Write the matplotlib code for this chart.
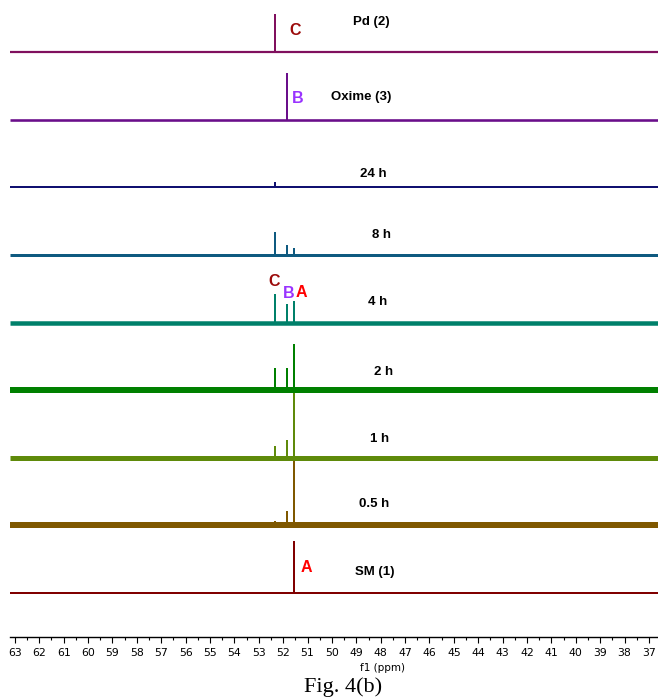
import matplotlib
matplotlib.use('Agg')
import matplotlib.pyplot as plt

# stacked spectra, bottom trace first
traces = ['SM (1)', '0.5 h', '1 h', '2 h', '4 h', '8 h', '24 h', 'Oxime (3)', 'Pd (2)']
colors = ['#800000', '#7f5800', '#5f8a0a', '#008000', '#00806a',
          '#0f5a80', '#101070', '#6a0e8a', '#80105e']

# peak positions (ppm) for species C, B, A
peak_ppm = [52.34, 51.86, 51.55]
# peak heights per trace (C, B, A), px-like units
peak_c = [0, 4, 12, 22, 29, 23, 5, 0, 38]
peak_b = [0, 14, 18, 22, 19, 10, 0, 47, 0]
peak_a = [52, 70, 67, 46, 22, 7, 0, 0, 0]
# baseline noise band thickness (px)
noise = [2.0, 6.0, 5.0, 6.0, 4.5, 3.0, 2.0, 2.6, 2.2]

label_ppm = [48.24, 48.28, 48.03, 47.87, 48.11, 47.95, 48.32, 48.81, 48.40]
label_dy = [21, 21, 19, 18, 21, 20, 13, 23, 30]

letter_text = ['A', 'C', 'B', 'A', 'B', 'C']
letter_trace = [0, 4, 4, 4, 7, 8]
letter_ppm = [51.03, 52.38, 51.76, 51.27, 51.39, 51.52]
letter_dy = [25, 41, 29, 30, 21, 22]
letter_col = {'A': '#ff0000', 'B': '#9933ff', 'C': '#9b0a0a'}

PX = 0.72  # points per pixel at dpi 100

fig = plt.figure(figsize=(6.58, 6.98), dpi=100)
ax = fig.add_axes([10 / 658, 1 - 636.7 / 698, 1 - 10 / 658, 636.7 / 698])

xl, xr = 63.2, 36.63
base0, step = 43.7, 67.6

for i, name in enumerate(traces):
    y0 = base0 + i * step
    ax.hlines(y0, xr, xl, color=colors[i], lw=noise[i] * PX, zorder=2 + i * 0.01)
    for ppm, h in zip(peak_ppm, [peak_c[i], peak_b[i], peak_a[i]]):
        if h > 0:
            ax.vlines(ppm, y0, y0 + h, color=colors[i], lw=2.0 * PX, zorder=2 + i * 0.01)
    ax.text(label_ppm[i], y0 + label_dy[i], name, ha='center', va='center',
            fontsize=9.5, fontweight='bold', family='Liberation Sans')

for t, ti, p, dy in zip(letter_text, letter_trace, letter_ppm, letter_dy):
    ax.text(p, base0 + ti * step + dy, t, ha='center', va='center',
            fontsize=11.5, fontweight='bold', color=letter_col[t],
            family='Liberation Sans')

ax.set_xlim(xl, xr)
ax.set_ylim(0, 636.7)
for s in ['top', 'left', 'right']:
    ax.spines[s].set_visible(False)
ax.spines['bottom'].set_linewidth(1.4 * PX)
ax.set_yticks([])
ax.set_xticks(range(63, 36, -1))
ax.set_xticks([x + 0.5 for x in range(37, 63)], minor=True)
ax.tick_params(axis='x', which='major', length=4, width=0.8, pad=4, labelsize=7.8)
ax.tick_params(axis='x', which='minor', length=2, width=0.8)

fig.text(382 / 658, 1 - 668 / 698, 'f1 (ppm)', ha='center', va='center',
         fontsize=7.5, family='DejaVu Sans')
fig.text(343 / 658, 1 - 687 / 698, 'Fig. 4(b)', ha='center', va='center',
         fontsize=16, family='Liberation Serif')

plt.savefig('out.png', dpi=100)
